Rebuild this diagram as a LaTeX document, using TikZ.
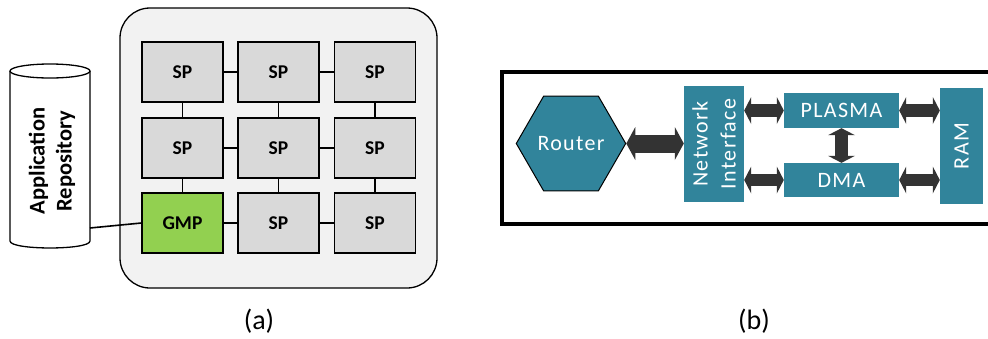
\documentclass[tikz,border=0pt]{standalone}
\usepackage{fontspec}
\setmainfont{Carlito}
\usetikzlibrary{arrows.meta,shapes.geometric}
\definecolor{meshbg}{HTML}{F2F2F2}
\definecolor{spgray}{HTML}{D9D9D9}
\definecolor{gmpgreen}{HTML}{92D050}
\definecolor{blockteal}{HTML}{31849B}
\definecolor{arrowdark}{HTML}{333333}
\tikzset{
  pe/.style={draw=black, line width=1.3pt, fill=spgray, minimum width=81pt,
    minimum height=60pt, inner sep=0pt,
    font=\bfseries\fontsize{19.5}{22}\selectfont},
  link/.style={draw=black, line width=1.3pt},
  block/.style={fill=blockteal, inner sep=0pt, text=white,
    font=\fontsize{22}{28}\selectfont\addfontfeature{LetterSpace=6}},
  bigbus/.style={draw=arrowdark, line width=18pt, {Triangle[length=9pt, width=33pt, line width=0pt]}-{Triangle[length=9pt, width=33pt, line width=0pt]}},
  bus/.style={draw=arrowdark, line width=12.5pt, {Triangle[length=7pt, width=27pt, line width=0pt]}-{Triangle[length=7pt, width=27pt, line width=0pt]}},
  caption/.style={font=\fontsize{28}{32}\selectfont}
}
\begin{document}
\begin{tikzpicture}[x=1pt, y=-1pt]
\useasboundingbox (0,0) rectangle (988,338);

% ---------- (a) mesh of processors ----------
\draw[line width=1.3pt, fill=meshbg, rounded corners=30pt] (120,8) rectangle (437,288);

\node[pe] (p11) at (182.5,72) {SP};
\node[pe] (p12) at (278.5,72) {SP};
\node[pe] (p13) at (375,72)   {SP};
\node[pe] (p21) at (182.5,148) {SP};
\node[pe] (p22) at (278.5,148) {SP};
\node[pe] (p23) at (375,148)   {SP};
\node[pe, fill=gmpgreen] (gmp) at (182.5,223) {GMP};
\node[pe] (p32) at (278.5,223) {SP};
\node[pe] (p33) at (375,223)   {SP};

\draw[link] (p11.east) -- (p12.west);
\draw[link] (p12.east) -- (p13.west);
\draw[link] (p21.east) -- (p22.west);
\draw[link] (p22.east) -- (p23.west);
\draw[link] (gmp.east) -- (p32.west);
\draw[link] (p32.east) -- (p33.west);
\draw[link] (p11.south) -- (p21.north);
\draw[link] (p21.south) -- (gmp.north);
\draw[link] (p12.south) -- (p22.north);
\draw[link] (p22.south) -- (p32.north);
\draw[link] (p13.south) -- (p23.north);
\draw[link] (p23.south) -- (p33.north);

% application repository drum
\draw[line width=1.3pt, fill=white]
  (10,71) -- (10,241) .. controls (10,250.3) and (90,250.3) .. (90,241) -- (90,71);
\draw[line width=1.3pt, fill=white] (50,71) ellipse [x radius=40, y radius=7];
\node[rotate=90, align=center, font=\bfseries\fontsize{22.5}{27}\selectfont]
  (repo) at (52,161) {Application\\Repository};
\coordinate (repoport) at (90,228);
\draw[line width=1.6pt] (repoport) -- (gmp.west);

\node[caption] (capa) at (259,321) {(a)};

% ---------- (b) processing element ----------
\draw[line width=4.5pt] (995,72) -- (502,72) -- (502,224) -- (995,224);

\node[regular polygon, regular polygon sides=6, minimum size=108pt, draw=black,
  line width=1pt, fill=blockteal, inner sep=0pt, text=white,
  font=\fontsize{22}{28}\selectfont\addfontfeature{LetterSpace=6}]
  (router) at (571,143.5) {Router};

% rotated blocks: their north anchor faces left, south faces right
\node[block, rotate=90, align=center, minimum width=116pt, minimum height=60pt]
  (ni) at (714,144) {Network\\Interface};
\node[block, minimum width=115pt, minimum height=35pt] (plasma) at (841.5,110.5) {PLASMA};
\node[block, minimum width=115pt, minimum height=34pt] (dma) at (841.5,180) {DMA};
\node[block, rotate=90, minimum width=116pt, minimum height=43pt] (ram) at (961.5,146) {RAM};

\draw[bigbus] (router.east) -- (router.east -| ni.north);
\draw[bus] (ni.south |- plasma.west) -- (plasma.west);
\draw[bus] (ni.south |- dma.west) -- (dma.west);
\draw[bus] (plasma.east) -- (plasma.east -| ram.north);
\draw[bus] (dma.east) -- (dma.east -| ram.north);
\draw[bus] (plasma.south) -- (dma.north);

\node[caption] (capb) at (754,321) {(b)};
\end{tikzpicture}
\end{document}
